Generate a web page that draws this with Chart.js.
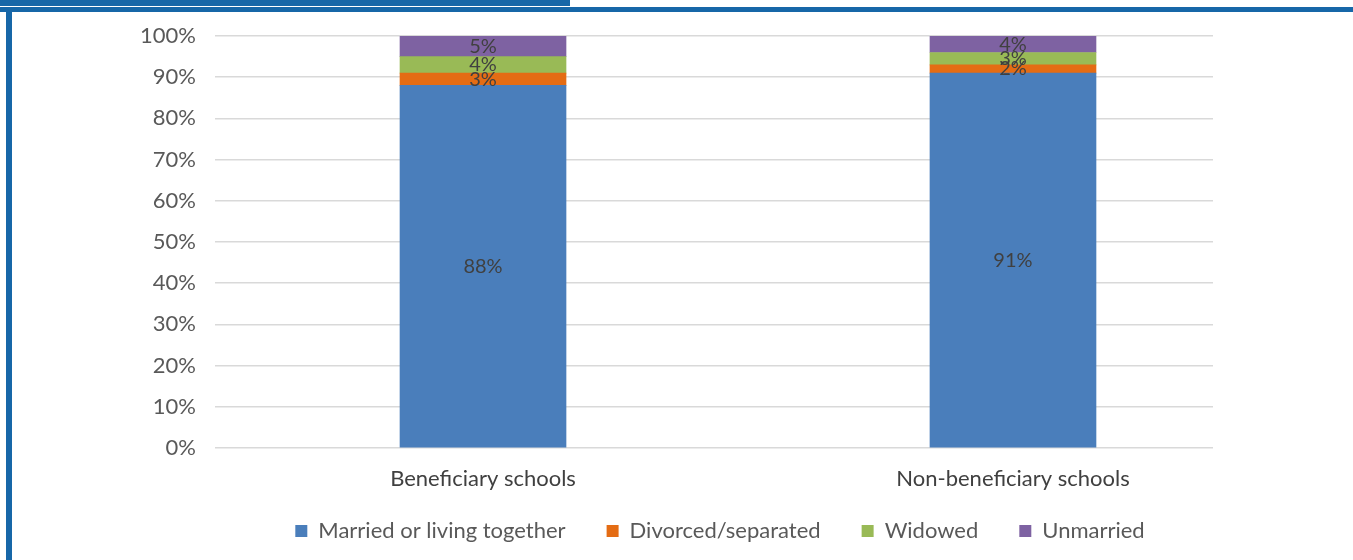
<!DOCTYPE html>
<html>
<head>
<meta charset="utf-8">
<script src="https://cdn.jsdelivr.net/npm/chart.js@4"></script>
<style>
  html, body { margin: 0; padding: 0; background: #fff; }
  body { width: 1353px; height: 560px; position: relative; overflow: hidden; }
  #chart { position: absolute; left: 0; top: 0; }
  .band { position: absolute; background: #1767a8; }
  #head { left: 0; top: 0; width: 570px; height: 6px; }
  #rule { left: 0; top: 7px; width: 1353px; height: 5px; }
  #side { left: 6px; top: 7px; width: 6px; height: 553px; }
</style>
</head>
<body>
<div class="band" id="head"></div>
<div class="band" id="rule"></div>
<div class="band" id="side"></div>
<canvas id="chart" width="1353" height="560"></canvas>
<script>
const categories = ['Beneficiary schools', 'Non-beneficiary schools'];
const seriesNames = ['Married or living together', 'Divorced/separated', 'Widowed', 'Unmarried'];
const married = [88, 91];
const divorced = [3, 2];
const widowed = [4, 3];
const unmarried = [5, 4];
const yTicks = [0, 10, 20, 30, 40, 50, 60, 70, 80, 90, 100];

const colors = ['#4a7ebb', '#e46c14', '#99ba56', '#7e62a2'];
const font = 'Lato';

const toPoints = (values) => values.map((v, i) => ({ x: i, y: v }));

// writes each segment's value in the middle of its bar piece
const segmentLabels = {
  id: 'segmentLabels',
  afterDatasetsDraw(chart) {
    const ctx = chart.ctx;
    ctx.save();
    ctx.font = '20px ' + font;
    ctx.fillStyle = '#404040';
    ctx.textAlign = 'center';
    ctx.textBaseline = 'middle';
    chart.data.datasets.forEach((ds, i) => {
      chart.getDatasetMeta(i).data.forEach((bar, j) => {
        const mid = (bar.y + bar.base) / 2;
        ctx.fillText(ds.data[j].y + '%', bar.x, mid);
      });
    });
    ctx.restore();
  }
};

new Chart(document.getElementById('chart').getContext('2d'), {
  type: 'bar',
  data: {
    datasets: [married, divorced, widowed, unmarried].map((values, i) => ({
      label: seriesNames[i],
      data: toPoints(values),
      backgroundColor: colors[i],
      barThickness: 166,
    })),
  },
  options: {
    responsive: false,
    animation: false,
    devicePixelRatio: 1,
    layout: { padding: { left: 120, right: 33, top: 36, bottom: 8 } },
    plugins: {
      tooltip: { enabled: false },
      legend: {
        position: 'bottom',
        labels: {
          boxWidth: 12,
          boxHeight: 12,
          padding: 41,
          color: '#595959',
          font: { family: font, size: 22 },
        },
      },
    },
    scales: {
      x: {
        type: 'linear',
        stacked: true,
        offset: false,
        min: -0.5057,
        max: 1.3774,
        grid: { display: false, drawTicks: false },
        border: { display: false },
        afterBuildTicks: (scale) => {
          scale.ticks = categories.map((_, i) => ({ value: i }));
        },
        afterFit: (scale) => { scale.height = 31; },
        ticks: {
          autoSkip: false,
          maxRotation: 0,
          mirror: true,
          padding: -44,
          color: '#404040',
          font: { family: font, size: 22 },
          callback: (v) => categories[v],
        },
      },
      y: {
        stacked: true,
        min: 0,
        max: 100,
        afterBuildTicks: (scale) => {
          scale.ticks = yTicks.map((v) => ({ value: v }));
        },
        afterFit: (scale) => { scale.width = 95; },
        grid: { color: '#d9d9d9', lineWidth: 1.5, drawTicks: false },
        border: { display: false },
        ticks: {
          padding: 19,
          color: '#595959',
          font: { family: font, size: 22 },
          callback: (v) => v + '%',
        },
      },
      y2: {
        position: 'right',
        display: true,
        grid: { display: false },
        border: { display: false },
        ticks: { display: false },
        afterFit: (scale) => { scale.width = 107; },
      },
    },
  },
  plugins: [segmentLabels],
});
</script>
</body>
</html>
